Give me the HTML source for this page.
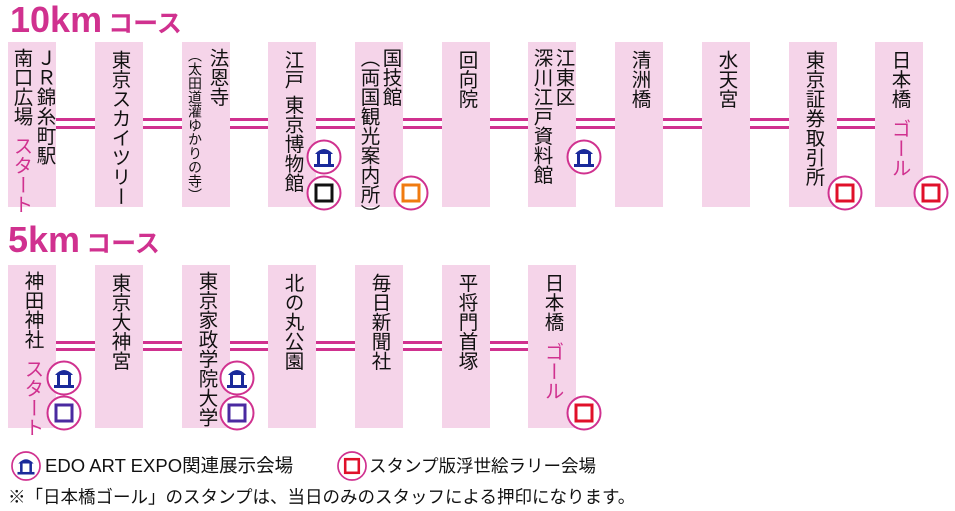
<!DOCTYPE html>
<html><head><meta charset="utf-8"><style>
*{margin:0;padding:0;box-sizing:border-box}
body{width:955px;height:511px;background:#fff;position:relative;overflow:hidden;font-family:"Liberation Sans","Noto Sans CJK JP",sans-serif;color:#111}
.t{position:absolute;color:#d0318f;font-weight:bold;font-family:"Liberation Sans","Noto Sans CJK JP",sans-serif}
.col{position:absolute;width:48px;background:#f5d4e9;display:flex;justify-content:center}
.v{writing-mode:vertical-rl;font-size:19.5px;line-height:24px;padding-top:6px;white-space:nowrap}
.m{color:#d0318f}
.ln{position:absolute;height:3px;background:#d0318f}
</style></head><body>
<div class="t" style="left:10px;top:0px;font-size:36px;line-height:40px;letter-spacing:0px">10km<span style="font-size:25px;margin-left:6px">コース</span></div>
<div class="t" style="left:8px;top:220px;font-size:36px;line-height:40px;letter-spacing:0px">5km<span style="font-size:25px;margin-left:6px">コース</span></div>

<div class="ln" style="left:56px;top:118px;width:820px"></div>
<div class="ln" style="left:56px;top:126px;width:820px"></div>
<div class="ln" style="left:56px;top:341px;width:473px"></div>
<div class="ln" style="left:56px;top:348px;width:473px"></div>

<div class="col" style="left:8px;top:42px;height:165px"><div class="v" style="line-height:23px">ＪＲ錦糸町駅<br>南口広場<span class="m" style="margin-top:10px;display:inline-block">スタート</span></div></div>
<div class="col" style="left:95px;top:42px;height:165px"><div class="v" style="padding-top:8px">東京スカイツリー</div></div>
<div class="col" style="left:182px;top:42px;height:165px"><div class="v" style="line-height:22px">法恩寺<br><span style="font-size:14px">（太田道灌ゆかりの寺）</span></div></div>
<div class="col" style="left:268px;top:42px;height:165px"><div class="v" style="padding-top:8px">江戸<span style="margin-top:6px;display:inline-block">東京博物館</span></div></div>
<div class="col" style="left:355px;top:42px;height:165px"><div class="v" style="line-height:22px">国技館<br>（両国観光案内所）</div></div>
<div class="col" style="left:442px;top:42px;height:165px"><div class="v" style="padding-top:8px">回向院</div></div>
<div class="col" style="left:528px;top:42px;height:165px"><div class="v" style="line-height:22px">江東区<br>深川江戸資料館</div></div>
<div class="col" style="left:615px;top:42px;height:165px"><div class="v" style="padding-top:8px">清洲橋</div></div>
<div class="col" style="left:702px;top:42px;height:165px"><div class="v" style="padding-top:8px">水天宮</div></div>
<div class="col" style="left:789px;top:42px;height:165px"><div class="v" style="padding-top:8px">東京証券取引所</div></div>
<div class="col" style="left:875px;top:42px;height:165px"><div class="v" style="padding-top:8px">日本橋<span class="m" style="margin-top:10px;display:inline-block">ゴール</span></div></div>

<div class="col" style="left:8px;top:265px;height:163px"><div class="v" style="padding-top:6px">神田神社<span class="m" style="margin-top:10px;display:inline-block">スタート</span></div></div>
<div class="col" style="left:95px;top:265px;height:163px"><div class="v" style="padding-top:8px">東京大神宮</div></div>
<div class="col" style="left:182px;top:265px;height:163px"><div class="v" style="padding-top:6px">東京家政学院大学</div></div>
<div class="col" style="left:268px;top:265px;height:163px"><div class="v" style="padding-top:8px">北の丸公園</div></div>
<div class="col" style="left:355px;top:265px;height:163px"><div class="v" style="padding-top:8px">毎日新聞社</div></div>
<div class="col" style="left:442px;top:265px;height:163px"><div class="v" style="padding-top:8px">平将門首塚</div></div>
<div class="col" style="left:528px;top:265px;height:163px"><div class="v" style="padding-top:8px">日本橋<span class="m" style="margin-top:10px;display:inline-block">ゴール</span></div></div>

<svg width="955" height="511" style="position:absolute;left:0;top:0" xmlns="http://www.w3.org/2000/svg">
<defs>
<g id="b"><circle r="16.5" fill="#fff" stroke="#d0318f" stroke-width="2"/><path d="M-9,-3 Q0,-13 9,-3 Z" fill="#1a2a9a"/><rect x="-7" y="-3" width="3" height="10" fill="#1a2a9a"/><rect x="4" y="-3" width="3" height="10" fill="#1a2a9a"/><rect x="-10" y="7" width="20" height="3" fill="#1a2a9a"/></g>
<g id="sk"><circle r="16.5" fill="#fff" stroke="#d0318f" stroke-width="2"/><rect x="-8" y="-8" width="16" height="16" fill="none" stroke="#111" stroke-width="3"/></g>
<g id="so"><circle r="16.5" fill="#fff" stroke="#d0318f" stroke-width="2"/><rect x="-8" y="-8" width="16" height="16" fill="none" stroke="#f07b10" stroke-width="3"/></g>
<g id="sr"><circle r="16.5" fill="#fff" stroke="#d0318f" stroke-width="2"/><rect x="-8" y="-8" width="16" height="16" fill="none" stroke="#e0102a" stroke-width="3"/></g>
<g id="sp"><circle r="16.5" fill="#fff" stroke="#d0318f" stroke-width="2"/><rect x="-8" y="-8" width="16" height="16" fill="none" stroke="#4a2aa0" stroke-width="3"/></g>
</defs>
<use href="#b" x="324" y="157"/><use href="#sk" x="324" y="193"/>
<use href="#so" x="411" y="193"/>
<use href="#b" x="584" y="157"/>
<use href="#sr" x="845" y="193"/>
<use href="#sr" x="931" y="193"/>
<use href="#b" x="64" y="378"/><use href="#sp" x="64" y="413"/>
<use href="#b" x="237" y="378"/><use href="#sp" x="237" y="413"/>
<use href="#sr" x="584" y="413"/>
<g transform="translate(26,466) scale(0.85)"><use href="#b"/></g>
<g transform="translate(352,466) scale(0.85)"><use href="#sr"/></g>
</svg>
<div style="position:absolute;left:45px;top:454px;font-size:18.5px;line-height:24px;white-space:nowrap">EDO ART EXPO関連展示会場</div>
<div style="position:absolute;left:369px;top:454px;font-size:17.5px;line-height:24px;white-space:nowrap">スタンプ版浮世絵ラリー会場</div>
<div style="position:absolute;left:8px;top:485px;font-size:17.5px;line-height:24px;white-space:nowrap">※「日本橋ゴール」のスタンプは、当日のみのスタッフによる押印になります。</div>
</body></html>
